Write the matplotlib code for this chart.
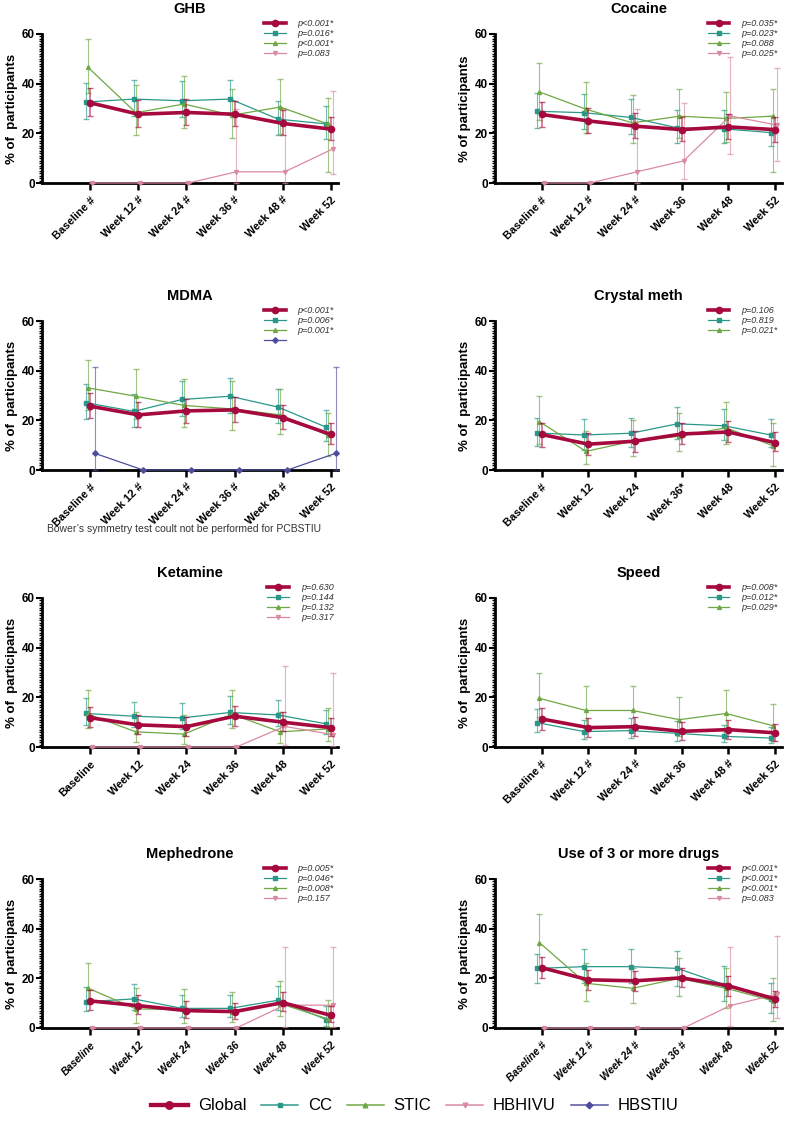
import numpy as np
import matplotlib.pyplot as plt
from matplotlib.lines import Line2D
from matplotlib.ticker import MultipleLocator
from matplotlib.colors import to_rgba

plt.rcParams['font.family'] = ['Liberation Sans', 'DejaVu Sans']

# ---- data (percent of participants, with 95% CI) ----
timepoints = ['Baseline', 'Week 12', 'Week 24', 'Week 36', 'Week 48', 'Week 52']
groups = ['Global', 'CC', 'STIC', 'HBHIVU', 'HBSTIU']

# GHB
ghb_labels = ['Baseline #', 'Week 12 #', 'Week 24 #', 'Week 36 #', 'Week 48 #', 'Week 52']
ghb_global = [32.3, 27.7, 28.4, 27.7, 24.0, 21.7]
ghb_global_ci = [[26.9, 22.6, 23.3, 22.9, 19.2, 17.2], [38.1, 33.4, 33.9, 33.1, 29.3, 26.6]]
ghb_cc = [32.6, 33.8, 33.1, 33.8, 25.7, 23.8]
ghb_cc_ci = [[25.7, 26.9, 26.4, 27.3, 19.4, 17.9], [40.1, 41.5, 40.9, 41.5, 33.2, 31.2]]
ghb_stic = [46.7, 28.3, 31.8, 27.3, 30.6, 23.7]
ghb_stic_ci = [[36.1, 19.2, 22.2, 18.3, 19.6, 4.4], [57.9, 39.3, 42.9, 38.0, 41.9, 34.1]]
ghb_hbhivu = [0, 0, 0, 4.5, 4.5, 13.7]
ghb_hbhivu_ci = [[0, 0, 0, 0, 0, 3.8], [0, 0, 0, 29.6, 29.6, 37.1]]
ghb_p = ['p<0.001*', 'p=0.016*', 'p<0.001*', 'p=0.083']

# Cocaine
coc_labels = ['Baseline #', 'Week 12 #', 'Week 24 #', 'Week 36', 'Week 48', 'Week 52']
coc_global = [27.6, 25.0, 22.9, 21.5, 22.6, 21.5]
coc_global_ci = [[22.6, 20.2, 18.2, 16.8, 17.9, 16.7], [32.8, 30.4, 28.0, 26.6, 27.6, 26.4]]
coc_cc = [28.9, 28.3, 26.4, 22.2, 21.8, 20.3]
coc_cc_ci = [[22.3, 21.8, 19.6, 16.2, 16.3, 14.8], [36.3, 35.7, 33.9, 29.3, 29.3, 27.1]]
coc_stic = [36.7, 29.7, 24.2, 26.9, 26.0, 26.9]
coc_stic_ci = [[25.3, 20.2, 16.2, 18.3, 16.6, 4.4], [48.2, 40.6, 35.3, 38.0, 36.7, 38.0]]
coc_hbhivu = [0, 0, 4.5, 8.9, 27.0, 23.3]
coc_hbhivu_ci = [[0, 0, 0, 1.7, 11.8, 8.9], [0, 0, 29.6, 32.4, 50.9, 46.4]]
coc_p = ['p=0.035*', 'p=0.023*', 'p=0.088', 'p=0.025*']

# MDMA
mdma_labels = ['Baseline #', 'Week 12 #', 'Week 24 #', 'Week 36 #', 'Week 48 #', 'Week 52']
mdma_global = [25.7, 22.2, 23.8, 24.2, 21.1, 14.3]
mdma_global_ci = [[20.9, 17.5, 18.8, 19.5, 16.4, 10.5], [31.0, 27.2, 28.7, 29.3, 26.2, 18.8]]
mdma_cc = [27.1, 23.6, 28.4, 29.7, 25.3, 17.2]
mdma_cc_ci = [[20.6, 17.5, 21.8, 23.1, 18.8, 11.8], [34.6, 30.7, 35.9, 37.1, 32.7, 24.0]]
mdma_stic = [33.1, 29.7, 26.0, 24.6, 22.2, 13.9]
mdma_stic_ci = [[24.0, 20.6, 17.2, 16.2, 14.3, 5.5], [44.4, 40.8, 36.7, 35.7, 32.7, 23.1]]
mdma_hbstiu = [6.7, 0, 0, 0, 0, 6.7]
mdma_hbstiu_ci = [[0, 0, 0, 0, 0, 0], [41.5, 0, 0, 0, 0, 41.5]]
mdma_p = ['p<0.001*', 'p=0.006*', 'p=0.001*', '']

# Crystal meth
cm_labels = ['Baseline #', 'Week 12', 'Week 24', 'Week 36*', 'Week 48', 'Week 52']
cm_global = [14.3, 10.4, 11.6, 14.5, 15.3, 11.0]
cm_global_ci = [[9.2, 6.2, 7.1, 10.5, 11.4, 7.5], [18.8, 14.8, 15.9, 18.8, 19.9, 15.5]]
cm_cc = [14.9, 14.1, 14.8, 18.6, 17.8, 14.1]
cm_cc_ci = [[9.8, 8.1, 9.2, 12.5, 12.1, 9.4], [21.0, 20.5, 21.0, 25.3, 24.6, 20.5]]
cm_stic = [19.5, 7.5, 11.6, 13.6, 17.0, 9.8]
cm_stic_ci = [[10.5, 2.3, 5.7, 7.5, 10.5, 1.5], [30.0, 15.9, 20.2, 22.9, 27.3, 18.8]]
cm_p = ['p=0.106', 'p=0.819', 'p=0.021*']

# Ketamine
ket_labels = ['Baseline', 'Week 12', 'Week 24', 'Week 36', 'Week 48', 'Week 52']
ket_global = [11.8, 8.9, 8.2, 12.4, 10.0, 7.8]
ket_global_ci = [[8.2, 5.2, 4.4, 8.6, 6.3, 4.6], [16.0, 12.9, 12.0, 16.6, 14.0, 11.7]]
ket_cc = [13.5, 12.4, 11.7, 13.9, 12.9, 9.3]
ket_cc_ci = [[9.0, 7.9, 7.3, 9.3, 8.5, 5.2], [19.9, 18.3, 17.6, 20.6, 18.8, 14.8]]
ket_stic = [13.3, 6.1, 5.2, 13.2, 6.1, 7.3]
ket_stic_ci = [[7.5, 1.9, 1.2, 7.5, 1.5, 2.6], [23.0, 14.0, 12.7, 23.0, 14.0, 15.7]]
ket_hbhivu = [0, 0, 0, 0, 8.3, 5.0]
ket_hbhivu_ci = [[0, 0, 0, 0, 1.0, 0.5], [0, 0, 0, 0, 32.7, 29.6]]
ket_p = ['p=0.630', 'p=0.144', 'p=0.132', 'p=0.317']

# Speed
spd_labels = ['Baseline #', 'Week 12 #', 'Week 24 #', 'Week 36', 'Week 48 #', 'Week 52']
spd_global = [11.3, 7.8, 8.2, 6.3, 7.0, 5.7]
spd_global_ci = [[7.0, 4.2, 4.6, 2.8, 3.4, 2.6], [15.7, 11.7, 12.0, 10.0, 10.8, 9.3]]
spd_cc = [9.8, 6.2, 6.6, 5.5, 4.3, 3.6]
spd_cc_ci = [[6.2, 3.1, 3.6, 2.6, 1.9, 1.5], [15.3, 11.0, 11.7, 10.4, 8.9, 7.9]]
spd_stic = [19.6, 14.7, 14.7, 11.0, 13.5, 8.6]
spd_stic_ci = [[12.1, 7.5, 7.5, 4.6, 6.2, 2.6], [30.0, 24.5, 24.5, 20.3, 23.0, 17.4]]
spd_p = ['p=0.008*', 'p=0.012*', 'p=0.029*']

# Mephedrone
mep_labels = ['Baseline', 'Week 12', 'Week 24', 'Week 36', 'Week 48', 'Week 52']
mep_global = [10.9, 9.0, 7.0, 6.6, 10.2, 5.1]
mep_global_ci = [[7.1, 5.8, 4.0, 3.6, 6.7, 2.3], [15.2, 13.1, 10.8, 10.1, 14.4, 8.7]]
mep_cc = [10.6, 11.7, 7.9, 7.9, 11.2, 3.4]
mep_cc_ci = [[6.7, 7.4, 4.4, 4.4, 7.4, 0.7], [16.4, 17.8, 13.3, 13.3, 17.1, 8.7]]
mep_stic = [16.1, 7.7, 7.4, 6.6, 9.8, 3.6]
mep_stic_ci = [[10.8, 2.0, 2.0, 2.3, 5.0, 0.5], [26.2, 16.1, 15.9, 14.4, 18.8, 11.3]]
mep_hbhivu = [0, 0, 0, 0, 9.2, 9.2]
mep_hbhivu_ci = [[0, 0, 0, 0, 0.5, 0.5], [0, 0, 0, 0, 32.6, 32.6]]
mep_p = ['p=0.005*', 'p=0.046*', 'p=0.008*', 'p=0.157']

# Use of 3 or more drugs
u3_labels = ['Baseline #', 'Week 12 #', 'Week 24 #', 'Week 36 #', 'Week 48', 'Week 52']
u3_global = [24.3, 19.4, 19.0, 20.2, 17.0, 11.7]
u3_global_ci = [[20.0, 15.5, 15.0, 16.5, 13.0, 8.5], [28.5, 23.5, 23.0, 24.0, 21.0, 15.0]]
u3_cc = [24.0, 24.7, 24.7, 24.0, 17.5, 11.5]
u3_cc_ci = [[18.0, 18.0, 18.0, 17.0, 11.0, 6.0], [30.0, 31.7, 32.0, 31.0, 25.0, 18.0]]
u3_stic = [34.4, 18.0, 16.0, 20.0, 16.0, 11.0]
u3_stic_ci = [[24.0, 11.0, 10.0, 13.0, 8.0, 3.0], [46.0, 26.0, 24.0, 28.0, 24.0, 20.0]]
u3_hbhivu = [0, 0, 0, 0, 9.0, 13.6]
u3_hbhivu_ci = [[0, 0, 0, 0, 1.0, 4.0], [0, 0, 0, 0, 32.7, 37.0]]
u3_p = ['p<0.001*', 'p<0.001*', 'p<0.001*', 'p=0.083']

# ---- styles ----
colors = {'Global': '#A6093D', 'CC': '#2A9889', 'STIC': '#6FA843',
          'HBHIVU': '#D98AA0', 'HBSTIU': '#4E4F9C'}
markers = {'Global': 'o', 'CC': 's', 'STIC': '^', 'HBHIVU': 'v', 'HBSTIU': 'D'}
offsets = {'Global': 0.0, 'CC': -0.09, 'STIC': -0.05, 'HBHIVU': 0.04, 'HBSTIU': 0.1}

panels = [
    ('GHB', ghb_labels, [('Global', ghb_global, ghb_global_ci), ('CC', ghb_cc, ghb_cc_ci),
                         ('STIC', ghb_stic, ghb_stic_ci), ('HBHIVU', ghb_hbhivu, ghb_hbhivu_ci)], ghb_p),
    ('Cocaine', coc_labels, [('Global', coc_global, coc_global_ci), ('CC', coc_cc, coc_cc_ci),
                             ('STIC', coc_stic, coc_stic_ci), ('HBHIVU', coc_hbhivu, coc_hbhivu_ci)], coc_p),
    ('MDMA', mdma_labels, [('Global', mdma_global, mdma_global_ci), ('CC', mdma_cc, mdma_cc_ci),
                           ('STIC', mdma_stic, mdma_stic_ci), ('HBSTIU', mdma_hbstiu, mdma_hbstiu_ci)], mdma_p),
    ('Crystal meth', cm_labels, [('Global', cm_global, cm_global_ci), ('CC', cm_cc, cm_cc_ci),
                                 ('STIC', cm_stic, cm_stic_ci)], cm_p),
    ('Ketamine', ket_labels, [('Global', ket_global, ket_global_ci), ('CC', ket_cc, ket_cc_ci),
                              ('STIC', ket_stic, ket_stic_ci), ('HBHIVU', ket_hbhivu, ket_hbhivu_ci)], ket_p),
    ('Speed', spd_labels, [('Global', spd_global, spd_global_ci), ('CC', spd_cc, spd_cc_ci),
                           ('STIC', spd_stic, spd_stic_ci)], spd_p),
    ('Mephedrone', mep_labels, [('Global', mep_global, mep_global_ci), ('CC', mep_cc, mep_cc_ci),
                                ('STIC', mep_stic, mep_stic_ci), ('HBHIVU', mep_hbhivu, mep_hbhivu_ci)], mep_p),
    ('Use of 3 or more drugs', u3_labels, [('Global', u3_global, u3_global_ci), ('CC', u3_cc, u3_cc_ci),
                                           ('STIC', u3_stic, u3_stic_ci), ('HBHIVU', u3_hbhivu, u3_hbhivu_ci)], u3_p),
]


def handle(g, scale=1.0):
    if g == 'Global':
        return Line2D([], [], color=colors[g], lw=2.6 * scale, marker='o', ms=4.5 * scale)
    return Line2D([], [], color=colors[g], lw=0.9 * scale, marker=markers[g], ms=2.8 * scale)


fig = plt.figure(figsize=(7.9, 11.36), dpi=100)
W, H = 790.0, 1136.0
lefts = [42 / W, 495 / W]
widths = [296 / W, 287 / W]
bottoms = [1 - 183 / H, 1 - 470 / H, 1 - 747 / H, 1 - 1028 / H]
height = 149 / H

x = np.arange(len(timepoints))
for i, (title, labels, series, pvals) in enumerate(panels):
    row, col = divmod(i, 2)
    ax = fig.add_axes([lefts[col], bottoms[row], widths[col], height])
    for g, mean, ci in series:
        mean = np.array(mean)
        lo, hi = np.array(ci[0]), np.array(ci[1])
        big = g == 'Global'
        ax.errorbar(x + offsets[g], mean, yerr=[mean - lo, hi - mean],
                    color=colors[g], ecolor=to_rgba(colors[g], 0.65),
                    lw=2.6 if big else 0.9, marker=markers[g],
                    ms=4.5 if big else 2.8, capsize=2.2,
                    elinewidth=1.1 if big else 0.8, capthick=1.0,
                    zorder=4 if big else 3, clip_on=False)
    ax.set_xlim(-1, 5.15)
    ax.set_ylim(0, 60)
    ax.set_yticks([0, 20, 40, 60])
    ax.yaxis.set_minor_locator(MultipleLocator(1))
    ax.tick_params(axis='y', which='major', length=4, width=1.5, labelsize=8.5, pad=1)
    ax.tick_params(axis='y', which='minor', length=2.5, width=1)
    ax.tick_params(axis='x', length=5, width=1.8)
    ax.set_xticks(x)
    italic = row == 3
    ax.set_xticklabels(labels, rotation=45, ha='right', rotation_mode='anchor',
                       fontweight='bold', fontsize=7.5 if italic else 8,
                       style='italic' if italic else 'normal')
    for lab in ax.get_yticklabels():
        lab.set_fontweight('bold')
    for s in ['top', 'right']:
        ax.spines[s].set_visible(False)
    ax.spines['left'].set_linewidth(2)
    ax.spines['bottom'].set_linewidth(2)
    ylabel = '% of participants' if title == 'Cocaine' else '% of  participants'
    ax.set_ylabel(ylabel, fontweight='bold', fontsize=9.5, labelpad=3)
    ax.set_title(title, fontweight='bold', fontsize=10.5, pad=15)
    ax.legend([handle(g) for g, _, _ in series], pvals, loc='upper right',
              bbox_to_anchor=(1.0, 1.13), frameon=False,
              prop=dict(style='italic', size=6.5), handlelength=2.4,
              labelspacing=0.12, borderpad=0, handletextpad=1.3,
              labelcolor='#333333')

fig.text(184 / W, 1 - 529 / H,
         'Bower\u2019s symmetry test coult not be performed for PCBSTIU',
         ha='center', va='center', fontsize=7.5, color='#333333')

fig.legend([handle(g, 1.2) for g in groups], groups, loc='center',
           bbox_to_anchor=(0.525, 1 - 1106 / H), ncol=5, frameon=False,
           prop=dict(family=['Liberation Sans Narrow', 'DejaVu Sans Condensed',
                             'Liberation Sans'], size=12),
           handlelength=2.2, columnspacing=0.9, handletextpad=0.6)

fig.savefig('out.png', dpi=100)
